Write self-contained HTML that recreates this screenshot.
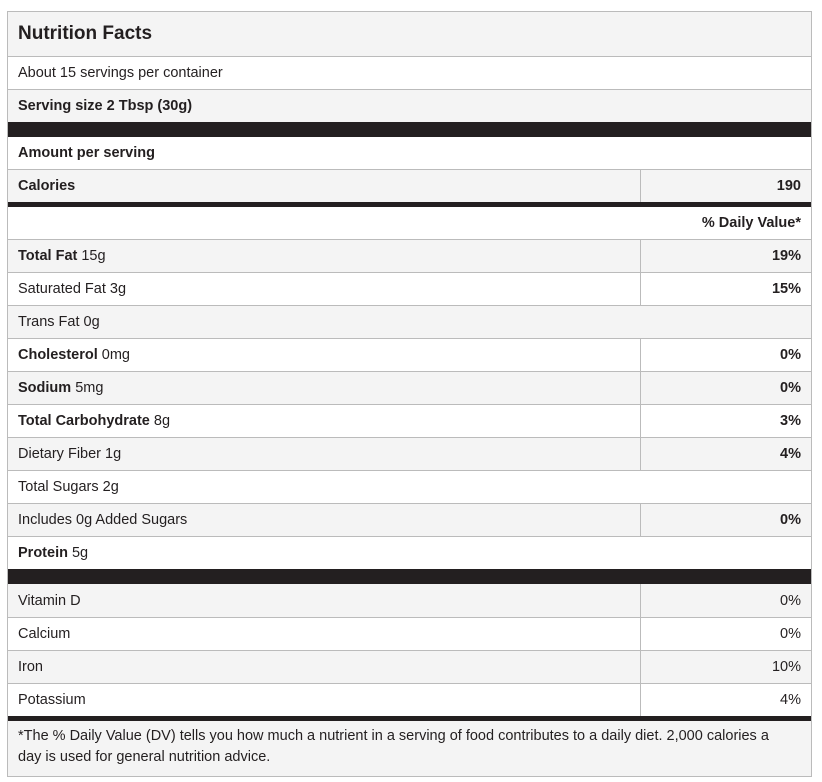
<!DOCTYPE html>
<html><head><meta charset="utf-8"><style>
body{margin:0;width:822px;height:782px;background:#fff;font-family:"Liberation Sans","DejaVu Sans",sans-serif;color:#231f20;font-size:14.5px;position:relative;overflow:hidden}
.r{position:absolute;left:7px;width:805px;box-sizing:border-box;border-top:1px solid #bbb}
.g{background:#f4f4f4}
.t{position:absolute;left:11px;top:0;bottom:0;display:flex;align-items:center;white-space:nowrap}
.v{position:absolute;right:11px;top:0;bottom:0;display:flex;align-items:center;white-space:nowrap}
.d{position:absolute;left:633px;top:0;bottom:0;border-left:1px solid #bbb}
.bk{position:absolute;left:7px;width:805px;background:#231f20}
b{font-weight:bold}
#frame{position:absolute;left:7px;top:11px;width:805px;height:766px;box-sizing:border-box;border:1px solid #bbb;pointer-events:none;z-index:5}
</style></head><body>
<div id="frame"></div>
<div class="r g" style="top:11px;height:45px"><div class="t" style="font-size:19px;font-weight:bold">Nutrition Facts</div></div>
<div class="r" style="top:56px;height:33px"><div class="t">About 15 servings per container</div></div>
<div class="r g" style="top:89px;height:33px"><div class="t"><b>Serving size 2 Tbsp (30g)</b></div></div>
<div class="bk" style="top:122px;height:15px"></div>
<div class="r" style="top:137px;height:32px;border-top:none"><div class="t"><b>Amount per serving</b></div></div>
<div class="r g" style="top:169px;height:33px"><div class="t"><b>Calories</b></div><div class="d"></div><div class="v"><b>190</b></div></div>
<div class="bk" style="top:202px;height:5px"></div>
<div class="r" style="top:207px;height:32px;border-top:none"><div class="v"><b>% Daily Value*</b></div></div>
<div class="r g" style="top:239px;height:33px"><div class="t"><b>Total Fat</b>&nbsp;15g</div><div class="d"></div><div class="v"><b>19%</b></div></div>
<div class="r" style="top:272px;height:33px"><div class="t">Saturated Fat 3g</div><div class="d"></div><div class="v"><b>15%</b></div></div>
<div class="r g" style="top:305px;height:33px"><div class="t">Trans Fat 0g</div></div>
<div class="r" style="top:338px;height:33px"><div class="t"><b>Cholesterol</b>&nbsp;0mg</div><div class="d"></div><div class="v"><b>0%</b></div></div>
<div class="r g" style="top:371px;height:33px"><div class="t"><b>Sodium</b>&nbsp;5mg</div><div class="d"></div><div class="v"><b>0%</b></div></div>
<div class="r" style="top:404px;height:33px"><div class="t"><b>Total Carbohydrate</b>&nbsp;8g</div><div class="d"></div><div class="v"><b>3%</b></div></div>
<div class="r g" style="top:437px;height:33px"><div class="t">Dietary Fiber 1g</div><div class="d"></div><div class="v"><b>4%</b></div></div>
<div class="r" style="top:470px;height:33px"><div class="t">Total Sugars 2g</div></div>
<div class="r g" style="top:503px;height:33px"><div class="t">Includes 0g Added Sugars</div><div class="d"></div><div class="v"><b>0%</b></div></div>
<div class="r" style="top:536px;height:33px"><div class="t"><b>Protein</b>&nbsp;5g</div></div>
<div class="bk" style="top:569px;height:15px"></div>
<div class="r g" style="top:584px;height:33px;border-top:none"><div class="t">Vitamin D</div><div class="d"></div><div class="v">0%</div></div>
<div class="r" style="top:617px;height:33px"><div class="t">Calcium</div><div class="d"></div><div class="v">0%</div></div>
<div class="r g" style="top:650px;height:33px"><div class="t">Iron</div><div class="d"></div><div class="v">10%</div></div>
<div class="r" style="top:683px;height:33px"><div class="t">Potassium</div><div class="d"></div><div class="v">4%</div></div>
<div class="bk" style="top:716px;height:5px"></div>
<div class="r g" style="top:721px;height:56px;border-top:none"><div style="position:absolute;left:11px;top:5px;right:20px;line-height:21px">*The % Daily Value (DV) tells you how much a nutrient in a serving of food contributes to a daily diet. 2,000 calories a day is used for general nutrition advice.</div></div>
</body></html>
